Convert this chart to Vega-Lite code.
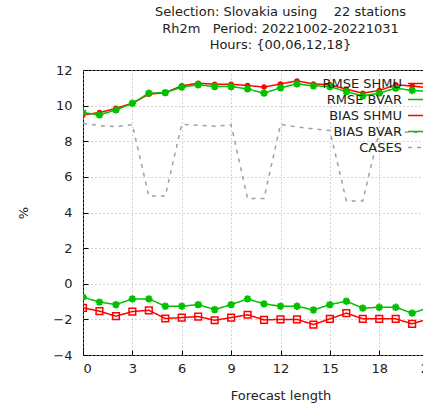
{
  "$schema": "https://vega.github.io/schema/vega-lite/v6.json",
  "autosize": "none",
  "padding": {"left": 83, "top": 70, "right": 0, "bottom": 50},
  "width": 395,
  "height": 285,
  "background": "white",
  "title": {
    "text": ["Selection: Slovakia using\u00a0\u00a0\u00a0\u00a022 stations", "Rh2m\u00a0\u00a0\u00a0Period: 20221002-20221031", "Hours: {00,06,12,18}"],
    "anchor": "middle",
    "font": "DejaVu Sans",
    "fontSize": 13,
    "fontWeight": "normal",
    "color": "#222",
    "lineHeight": 16.5,
    "offset": 12
  },
  "config": {
    "view": {"stroke": "#000", "strokeWidth": 1},
    "axis": {
      "labelFont": "DejaVu Sans",
      "labelFontSize": 13,
      "labelColor": "#222",
      "titleFont": "DejaVu Sans",
      "titleFontSize": 13,
      "titleFontWeight": "normal",
      "titleColor": "#222",
      "domain": false,
      "grid": true,
      "gridColor": "#a8a8a8",
      "gridDash": [1, 3],
      "gridWidth": 1,
      "tickColor": "#000",
      "tickSize": -5
    }
  },
  "data": {
    "values": [
      {"h": 0, "series": "RMSE SHMU", "value": 9.48},
      {"h": 1, "series": "RMSE SHMU", "value": 9.61},
      {"h": 2, "series": "RMSE SHMU", "value": 9.85},
      {"h": 3, "series": "RMSE SHMU", "value": 10.13},
      {"h": 4, "series": "RMSE SHMU", "value": 10.64},
      {"h": 5, "series": "RMSE SHMU", "value": 10.73},
      {"h": 6, "series": "RMSE SHMU", "value": 11.11},
      {"h": 7, "series": "RMSE SHMU", "value": 11.26},
      {"h": 8, "series": "RMSE SHMU", "value": 11.2},
      {"h": 9, "series": "RMSE SHMU", "value": 11.2},
      {"h": 10, "series": "RMSE SHMU", "value": 11.13},
      {"h": 11, "series": "RMSE SHMU", "value": 11.04},
      {"h": 12, "series": "RMSE SHMU", "value": 11.22},
      {"h": 13, "series": "RMSE SHMU", "value": 11.39},
      {"h": 14, "series": "RMSE SHMU", "value": 11.22},
      {"h": 15, "series": "RMSE SHMU", "value": 11.17},
      {"h": 16, "series": "RMSE SHMU", "value": 10.92},
      {"h": 17, "series": "RMSE SHMU", "value": 10.7},
      {"h": 18, "series": "RMSE SHMU", "value": 10.85},
      {"h": 19, "series": "RMSE SHMU", "value": 11.17},
      {"h": 20, "series": "RMSE SHMU", "value": 11.1},
      {"h": 21, "series": "RMSE SHMU", "value": 11.0},
      {"h": 0, "series": "RMSE BVAR", "value": 9.61},
      {"h": 1, "series": "RMSE BVAR", "value": 9.48},
      {"h": 2, "series": "RMSE BVAR", "value": 9.76},
      {"h": 3, "series": "RMSE BVAR", "value": 10.13},
      {"h": 4, "series": "RMSE BVAR", "value": 10.7},
      {"h": 5, "series": "RMSE BVAR", "value": 10.73},
      {"h": 6, "series": "RMSE BVAR", "value": 11.04},
      {"h": 7, "series": "RMSE BVAR", "value": 11.17},
      {"h": 8, "series": "RMSE BVAR", "value": 11.07},
      {"h": 9, "series": "RMSE BVAR", "value": 11.07},
      {"h": 10, "series": "RMSE BVAR", "value": 10.94},
      {"h": 11, "series": "RMSE BVAR", "value": 10.7},
      {"h": 12, "series": "RMSE BVAR", "value": 11.0},
      {"h": 13, "series": "RMSE BVAR", "value": 11.22},
      {"h": 14, "series": "RMSE BVAR", "value": 11.11},
      {"h": 15, "series": "RMSE BVAR", "value": 11.07},
      {"h": 16, "series": "RMSE BVAR", "value": 10.79},
      {"h": 17, "series": "RMSE BVAR", "value": 10.55},
      {"h": 18, "series": "RMSE BVAR", "value": 10.7},
      {"h": 19, "series": "RMSE BVAR", "value": 10.98},
      {"h": 20, "series": "RMSE BVAR", "value": 10.85},
      {"h": 21, "series": "RMSE BVAR", "value": 10.8},
      {"h": 0, "series": "BIAS SHMU", "value": -1.35},
      {"h": 1, "series": "BIAS SHMU", "value": -1.54},
      {"h": 2, "series": "BIAS SHMU", "value": -1.82},
      {"h": 3, "series": "BIAS SHMU", "value": -1.56},
      {"h": 4, "series": "BIAS SHMU", "value": -1.49},
      {"h": 5, "series": "BIAS SHMU", "value": -1.95},
      {"h": 6, "series": "BIAS SHMU", "value": -1.9},
      {"h": 7, "series": "BIAS SHMU", "value": -1.84},
      {"h": 8, "series": "BIAS SHMU", "value": -2.05},
      {"h": 9, "series": "BIAS SHMU", "value": -1.9},
      {"h": 10, "series": "BIAS SHMU", "value": -1.74},
      {"h": 11, "series": "BIAS SHMU", "value": -2.03},
      {"h": 12, "series": "BIAS SHMU", "value": -2.0},
      {"h": 13, "series": "BIAS SHMU", "value": -2.0},
      {"h": 14, "series": "BIAS SHMU", "value": -2.29},
      {"h": 15, "series": "BIAS SHMU", "value": -1.97},
      {"h": 16, "series": "BIAS SHMU", "value": -1.65},
      {"h": 17, "series": "BIAS SHMU", "value": -1.97},
      {"h": 18, "series": "BIAS SHMU", "value": -1.97},
      {"h": 19, "series": "BIAS SHMU", "value": -1.97},
      {"h": 20, "series": "BIAS SHMU", "value": -2.25},
      {"h": 21, "series": "BIAS SHMU", "value": -1.97},
      {"h": 0, "series": "BIAS BVAR", "value": -0.75},
      {"h": 1, "series": "BIAS BVAR", "value": -1.03},
      {"h": 2, "series": "BIAS BVAR", "value": -1.17},
      {"h": 3, "series": "BIAS BVAR", "value": -0.85},
      {"h": 4, "series": "BIAS BVAR", "value": -0.85},
      {"h": 5, "series": "BIAS BVAR", "value": -1.26},
      {"h": 6, "series": "BIAS BVAR", "value": -1.26},
      {"h": 7, "series": "BIAS BVAR", "value": -1.17},
      {"h": 8, "series": "BIAS BVAR", "value": -1.45},
      {"h": 9, "series": "BIAS BVAR", "value": -1.17},
      {"h": 10, "series": "BIAS BVAR", "value": -0.85},
      {"h": 11, "series": "BIAS BVAR", "value": -1.13},
      {"h": 12, "series": "BIAS BVAR", "value": -1.26},
      {"h": 13, "series": "BIAS BVAR", "value": -1.26},
      {"h": 14, "series": "BIAS BVAR", "value": -1.47},
      {"h": 15, "series": "BIAS BVAR", "value": -1.17},
      {"h": 16, "series": "BIAS BVAR", "value": -0.98},
      {"h": 17, "series": "BIAS BVAR", "value": -1.37},
      {"h": 18, "series": "BIAS BVAR", "value": -1.32},
      {"h": 19, "series": "BIAS BVAR", "value": -1.32},
      {"h": 20, "series": "BIAS BVAR", "value": -1.65},
      {"h": 21, "series": "BIAS BVAR", "value": -1.35},
      {"h": 0, "series": "CASES", "value": 9.0},
      {"h": 1, "series": "CASES", "value": 8.88},
      {"h": 2, "series": "CASES", "value": 8.82},
      {"h": 3, "series": "CASES", "value": 8.93},
      {"h": 4, "series": "CASES", "value": 4.92},
      {"h": 5, "series": "CASES", "value": 4.92},
      {"h": 6, "series": "CASES", "value": 8.95},
      {"h": 7, "series": "CASES", "value": 8.9},
      {"h": 8, "series": "CASES", "value": 8.84},
      {"h": 9, "series": "CASES", "value": 8.92},
      {"h": 10, "series": "CASES", "value": 4.78},
      {"h": 11, "series": "CASES", "value": 4.78},
      {"h": 12, "series": "CASES", "value": 8.95},
      {"h": 13, "series": "CASES", "value": 8.8},
      {"h": 14, "series": "CASES", "value": 8.7},
      {"h": 15, "series": "CASES", "value": 8.6},
      {"h": 16, "series": "CASES", "value": 4.65},
      {"h": 17, "series": "CASES", "value": 4.65},
      {"h": 18, "series": "CASES", "value": 8.55},
      {"h": 19, "series": "CASES", "value": 8.52},
      {"h": 20, "series": "CASES", "value": 8.5},
      {"h": 21, "series": "CASES", "value": 8.5}
    ]
  },
  "encoding": {
    "x": {
      "field": "h",
      "type": "quantitative",
      "scale": {"domain": [0, 24], "nice": false},
      "axis": {"values": [0, 3, 6, 9, 12, 15, 18, 21, 24], "title": "Forecast length", "labelPadding": 12, "titlePadding": 14}
    },
    "y": {
      "field": "value",
      "type": "quantitative",
      "scale": {"domain": [-4, 12], "nice": false, "zero": false},
      "axis": {"values": [-4, -2, 0, 2, 4, 6, 8, 10, 12], "title": "%", "labelPadding": 16, "titlePadding": 22}
    }
  },
  "layer": [
    {
      "mark": {"type": "line", "strokeWidth": 1.5, "clip": true},
      "encoding": {
        "color": {
          "field": "series",
          "type": "nominal",
          "scale": {
            "domain": ["RMSE SHMU", "RMSE BVAR", "BIAS SHMU", "BIAS BVAR", "CASES"],
            "range": ["#ff0000", "#00c000", "#ff0000", "#00c000", "#a0a0a0"]
          },
          "legend": {
            "orient": "none",
            "legendX": 321,
            "legendY": 5,
            "title": null,
            "symbolType": "stroke",
            "symbolSize": 225,
            "symbolOffset": 3,
            "symbolStrokeWidth": 1.5,
            "labelAlign": "right",
            "labelOffset": -22,
            "labelFont": "DejaVu Sans",
            "labelFontSize": 13,
            "labelColor": "#222",
            "labelLimit": 0,
            "rowPadding": 0,
            "padding": 0
          }
        },
        "strokeDash": {
          "field": "series",
          "type": "nominal",
          "scale": {
            "domain": ["RMSE SHMU", "RMSE BVAR", "BIAS SHMU", "BIAS BVAR", "CASES"],
            "range": [[1, 0], [1, 0], [1, 0], [1, 0], [4, 5]]
          },
          "legend": {
            "orient": "none",
            "legendX": 321,
            "legendY": 5,
            "title": null,
            "symbolType": "stroke",
            "symbolSize": 225,
            "symbolOffset": 3,
            "symbolStrokeWidth": 1.5,
            "labelAlign": "right",
            "labelOffset": -22,
            "labelFont": "DejaVu Sans",
            "labelFontSize": 13,
            "labelColor": "#222",
            "labelLimit": 0,
            "rowPadding": 0,
            "padding": 0
          }
        }
      }
    },
    {
      "transform": [{"filter": "datum.series === 'RMSE SHMU'"}],
      "mark": {"type": "point", "shape": "circle", "filled": true, "size": 30, "color": "#ff0000", "opacity": 1, "clip": true}
    },
    {
      "transform": [{"filter": "datum.series === 'BIAS SHMU'"}],
      "mark": {"type": "point", "shape": "square", "filled": false, "size": 45, "color": "#ff0000", "strokeWidth": 1.5, "opacity": 1, "clip": true}
    },
    {
      "transform": [{"filter": "datum.series === 'RMSE BVAR' || datum.series === 'BIAS BVAR'"}],
      "mark": {"type": "point", "shape": "M-1,0L1,0M0,-1L0,1M-0.72,-0.72L0.72,0.72M-0.72,0.72L0.72,-0.72", "filled": false, "size": 55, "color": "#00c000", "strokeWidth": 2, "opacity": 1, "clip": true}
    }
  ]
}
